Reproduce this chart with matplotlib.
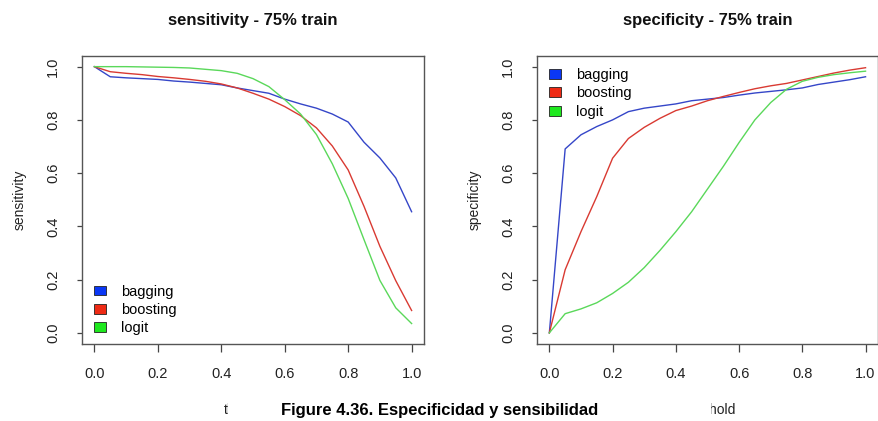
import matplotlib
matplotlib.use("Agg")
import matplotlib.pyplot as plt
from matplotlib.patches import Patch, Rectangle

plt.rcParams['font.family'] = ['Liberation Sans', 'DejaVu Sans']

threshold = [0.00, 0.05, 0.10, 0.15, 0.20, 0.25, 0.30, 0.35, 0.40, 0.45, 0.50,
             0.55, 0.60, 0.65, 0.70, 0.75, 0.80, 0.85, 0.90, 0.95, 1.00]

sens_bagging = [1.000, 0.962, 0.958, 0.955, 0.952, 0.946, 0.942, 0.937, 0.932, 0.920, 0.910,
                0.900, 0.878, 0.860, 0.844, 0.822, 0.792, 0.716, 0.657, 0.582, 0.455]
sens_boosting = [1.000, 0.981, 0.975, 0.970, 0.963, 0.958, 0.952, 0.945, 0.935, 0.920, 0.900,
                 0.878, 0.850, 0.816, 0.770, 0.702, 0.612, 0.475, 0.325, 0.196, 0.084]
sens_logit = [1.000, 1.000, 1.000, 0.999, 0.998, 0.997, 0.995, 0.990, 0.985, 0.975, 0.955,
              0.925, 0.876, 0.822, 0.745, 0.635, 0.505, 0.350, 0.197, 0.094, 0.035]

spec_bagging = [0.000, 0.691, 0.744, 0.775, 0.800, 0.831, 0.844, 0.852, 0.860, 0.872, 0.878,
                0.884, 0.893, 0.901, 0.907, 0.913, 0.920, 0.933, 0.942, 0.951, 0.962]
spec_boosting = [0.000, 0.237, 0.380, 0.512, 0.656, 0.730, 0.772, 0.806, 0.835, 0.852, 0.872,
                 0.888, 0.903, 0.917, 0.928, 0.937, 0.950, 0.963, 0.976, 0.987, 0.996]
spec_logit = [0.000, 0.072, 0.090, 0.113, 0.148, 0.190, 0.245, 0.310, 0.380, 0.455, 0.540,
              0.625, 0.715, 0.800, 0.865, 0.915, 0.945, 0.960, 0.970, 0.977, 0.983]

models = ['bagging', 'boosting', 'logit']
line_colors = ['#3546c8', '#d93a32', '#5ad85a']
fill_colors = ['#0a37f5', '#ee2a14', '#1ee81e']
ticks = [0.0, 0.2, 0.4, 0.6, 0.8, 1.0]
tick_labels = ['0.0', '0.2', '0.4', '0.6', '0.8', '1.0']

W, H = 879, 421
fig = plt.figure(figsize=(W / 100, H / 100), dpi=100)

ax_l = fig.add_axes([81.7 / W, (H - 343.5) / H, 342.6 / W, 287.5 / H])
ax_r = fig.add_axes([536.7 / W, (H - 343.5) / H, 341.5 / W, 287.5 / H])

panels = [
    (ax_l, [sens_bagging, sens_boosting, sens_logit], 'sensitivity', 'sensitivity - 75% train',
     dict(loc='lower left', bbox_to_anchor=(0.036, 0.028))),
    (ax_r, [spec_bagging, spec_boosting, spec_logit], 'specificity', 'specificity - 75% train',
     dict(loc='upper left', bbox_to_anchor=(0.036, 0.958))),
]

for ax, series, ylab, title, leg_pos in panels:
    for vals, col in zip(series, line_colors):
        ax.plot(threshold, vals, color=col, lw=1.0)
    ax.set_xlim(-0.04, 1.04)
    ax.set_ylim(-0.04, 1.04)
    ax.set_xticks(ticks)
    ax.set_xticklabels(tick_labels)
    ax.set_yticks(ticks)
    ax.set_yticklabels(tick_labels, rotation=90, va='center')
    ax.tick_params(axis='x', length=6, width=0.9, color='#444444', pad=11,
                   labelsize=10.5, labelcolor='#222222')
    ax.tick_params(axis='y', length=3.5, width=0.9, color='#444444', pad=12,
                   labelsize=10.5, labelcolor='#222222')
    for sp in ax.spines.values():
        sp.set_color('#555555')
        sp.set_linewidth(1.0)
    ax.set_ylabel(ylab, fontsize=10, color='#222222', labelpad=14)
    ax.set_xlabel('threshold', fontsize=10, color='#222222', labelpad=16)
    ax.set_title(title, fontsize=12, fontweight='bold', color='#111111', pad=22)
    handles = [Patch(facecolor=fc, edgecolor='#222222', lw=0.6) for fc in fill_colors]
    ax.legend(handles, models, frameon=False, fontsize=10.5, handlelength=0.85,
              handleheight=0.65, handletextpad=1.0, labelspacing=0.3, borderpad=0,
              borderaxespad=0, **leg_pos)

# caption band across the bottom
fig.patches.append(Rectangle((228 / W, 0), (711 - 228) / W, 24 / H,
                             transform=fig.transFigure, facecolor='white',
                             edgecolor='none', zorder=5))
fig.text(440 / W, (H - 410) / H, 'Figure 4.36. Especificidad y sensibilidad',
         ha='center', va='center', fontsize=12, fontweight='bold', color='black',
         zorder=6)

fig.savefig('out.png', dpi=100)
